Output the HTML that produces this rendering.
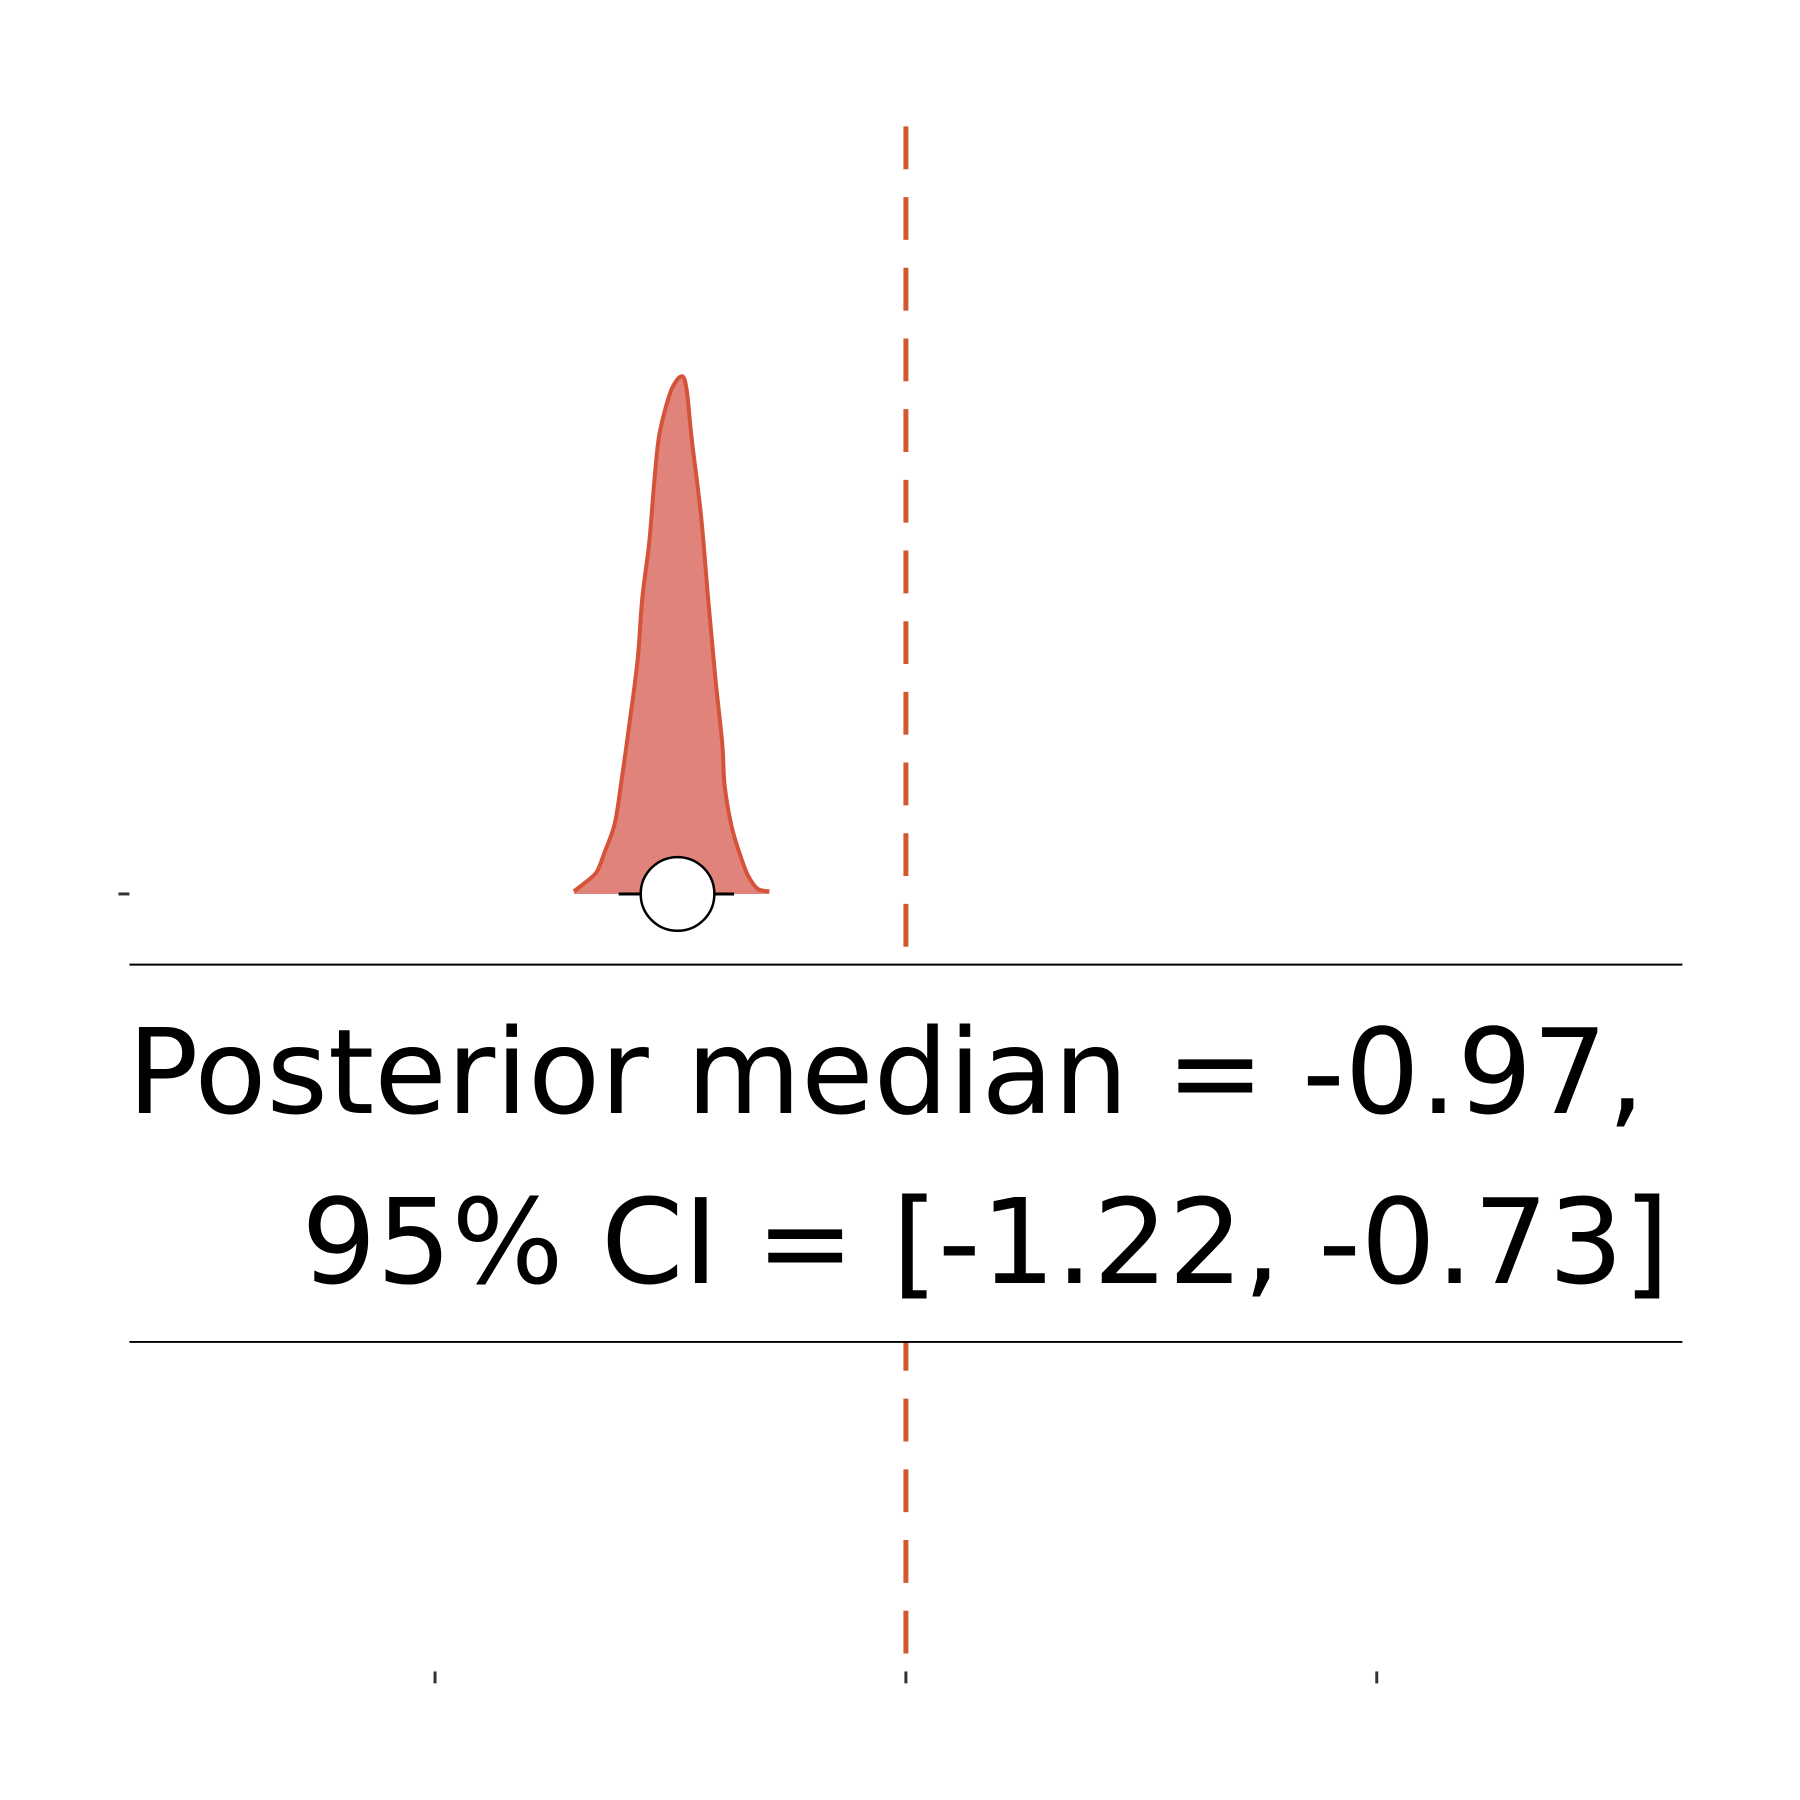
<!DOCTYPE html>
<html><head><meta charset="utf-8"><style>
html,body{margin:0;padding:0;background:#fff}
svg{display:block}
text{font-family:"DejaVu Sans","Liberation Sans",sans-serif}
</style></head><body>
<svg id="chart" width="1800" height="1800" viewBox="0 0 1800 1800" xmlns="http://www.w3.org/2000/svg">
<g transform="scale(0.9955)">
<g id="plot"></g>
<rect x="130" y="969" width="1560" height="379" fill="#fff"/>
<line x1="130" y1="969" x2="1690" y2="969" stroke="#000" stroke-width="2"/>
<line x1="130" y1="1348" x2="1690" y2="1348" stroke="#000" stroke-width="2"/>
<text x="128" y="1118" font-size="118.5" fill="#000">Posterior median = -0.97,</text>
<text x="1677" y="1289" font-size="118.5" fill="#000" text-anchor="end">95% CI = [-1.22, -0.73]</text>
</g>
</svg>
<script>
const densityX = [-1.41,-1.34,-1.31,-1.28,-1.24,-1.22,-1.18,-1.14,-1.12,-1.09,-1.07,-1.05,-1.02,-0.99,-0.95,-0.93,-0.91,-0.87,-0.84,-0.81,-0.78,-0.77,-0.74,-0.70,-0.67,-0.63,-0.58];
const densityY = [0.005,0.03,0.045,0.08,0.13,0.18,0.31,0.45,0.57,0.68,0.79,0.88,0.94,0.98,1.0,0.97,0.88,0.73,0.57,0.42,0.29,0.21,0.13,0.07,0.035,0.01,0.005];
const median = [-0.97];
const ciBounds = [-1.22, -0.73];
const refValue = [0];
const xTicks = [-2, 0, 2];

const xs = v => 910 + v * 236.5;
const ys = d => 898 - d * 520;
const ns = 'http://www.w3.org/2000/svg';
const g = document.getElementById('plot');
function mk(tag, attrs){ const e = document.createElementNS(ns, tag); for (const k in attrs) e.setAttribute(k, attrs[k]); g.appendChild(e); return e; }

const ref = mk('line', {x1: xs(refValue[0]), x2: xs(refValue[0]), y1: 127, y2: 1679, stroke: '#d05a2e', 'stroke-width': 5, 'stroke-dasharray': '43 28'});



const pts = densityX.map((x, i) => [xs(x), ys(densityY[i])]);
function smooth(p){
  let s = '';
  for (let i = 0; i < p.length - 1; i++) {
    const p0 = p[Math.max(0, i-1)], p1 = p[i], p2 = p[i+1], p3 = p[Math.min(p.length-1, i+2)];
    const c1 = [p1[0] + (p2[0]-p0[0])/6, p1[1] + (p2[1]-p0[1])/6];
    const c2 = [p2[0] - (p3[0]-p1[0])/6, p2[1] - (p3[1]-p1[1])/6];
    s += ' C' + c1[0] + ',' + c1[1] + ' ' + c2[0] + ',' + c2[1] + ' ' + p2[0] + ',' + p2[1];
  }
  return s;
}
const curve = 'M' + pts[0][0] + ',' + pts[0][1] + smooth(pts);
const fill = mk('path', {d: 'M' + pts[0][0] + ',' + ys(0) + ' L' + pts[0][0] + ',' + pts[0][1] + smooth(pts) + ' L' + pts[pts.length-1][0] + ',' + ys(0) + ' Z', fill: '#e0837a', stroke: 'none'});


const outline = mk('path', {d: curve, fill: 'none', stroke: '#d5533a', 'stroke-width': 4, 'stroke-linejoin': 'round'});



const ci = mk('line', {x1: xs(ciBounds[0]), x2: xs(ciBounds[1]), y1: 898, y2: 898, stroke: '#000', 'stroke-width': 3});


const pt = mk('circle', {cx: xs(median[0]), cy: 898, r: 37, fill: '#fff', stroke: '#000', 'stroke-width': 2.5});



xTicks.forEach(t => {
  const tk = mk('line', {x1: xs(t), x2: xs(t), y1: 1679, y2: 1691, stroke: '#333', 'stroke-width': 3});
  
  
});
const yt = mk('line', {x1: 119, x2: 130, y1: 898, y2: 898, stroke: '#333', 'stroke-width': 3});


</script>
</body></html>
